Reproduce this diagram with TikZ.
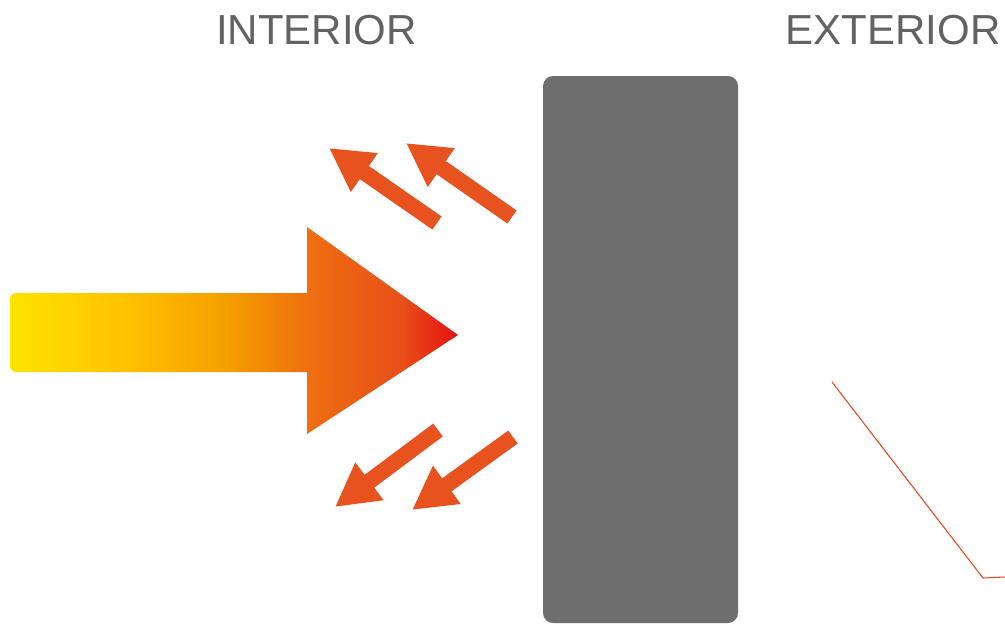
\documentclass[tikz,border=0pt]{standalone}
\usepackage{fontspec}
\setmainfont{Liberation Sans}
\usetikzlibrary{arrows.meta}
\definecolor{txtgray}{HTML}{626262}
\definecolor{wallgray}{HTML}{6E6E6E}
\definecolor{flux}{HTML}{E8521E}
\definecolor{thinred}{HTML}{E84A2A}
\definecolor{fy}{HTML}{FFE300}
\definecolor{fy2}{HTML}{FFC200}
\definecolor{fo}{HTML}{F59C00}
\definecolor{fo2}{HTML}{EE7010}
\definecolor{fr}{HTML}{E8501A}
\definecolor{fr2}{HTML}{E81212}
\pgfdeclarehorizontalshading{fire}{100bp}{color(0bp)=(fy); color(25bp)=(fy); color(38bp)=(fy2); color(49.6bp)=(fo); color(58bp)=(fo2); color(68.5bp)=(fr); color(75bp)=(fr2); color(100bp)=(fr2)}
\tikzset{
  label/.style={font=\fontsize{42}{50}\selectfont, text=txtgray, inner sep=0pt, anchor=base},
  wall/.style={fill=wallgray, draw=none, rounded corners=10pt},
  fluxarrow/.style={draw=flux, line width=16pt, line cap=butt, -{Triangle[length=43pt,width=44pt]}},
  thin/.style={draw=thinred, line width=1.1pt}
}
\begin{document}
\begin{tikzpicture}[x=1pt,y=-1pt]
\useasboundingbox (0,0) rectangle (1005,624);
\node[label] (int) at (316.5,44) {INTERIOR};
\node[label] (ext) at (893,44) {EXTERIOR};
\fill[wall] (543,76) rectangle (738,623);
\shade[shading=fire] (458,335) -- (307,227) -- (307,293) [rounded corners=6pt] -- (10,293) -- (10,372) [sharp corners] -- (307,372) -- (307,434) -- cycle;
\coordinate (u1t) at (437,223); \coordinate (u1h) at (329,148);
\coordinate (u2t) at (512,217); \coordinate (u2h) at (406,143);
\coordinate (l1t) at (438,430); \coordinate (l1h) at (335,507);
\coordinate (l2t) at (513,437); \coordinate (l2h) at (412,510);
\draw[fluxarrow] (u1t) -- (u1h);
\draw[fluxarrow] (u2t) -- (u2h);
\draw[fluxarrow] (l1t) -- (l1h);
\draw[fluxarrow] (l2t) -- (l2h);
\coordinate (ra) at (832,382); \coordinate (rb) at (983,578); \coordinate (rc) at (1005,577);
\draw[thin] (ra) -- (rb) -- (rc);
\end{tikzpicture}
\end{document}
